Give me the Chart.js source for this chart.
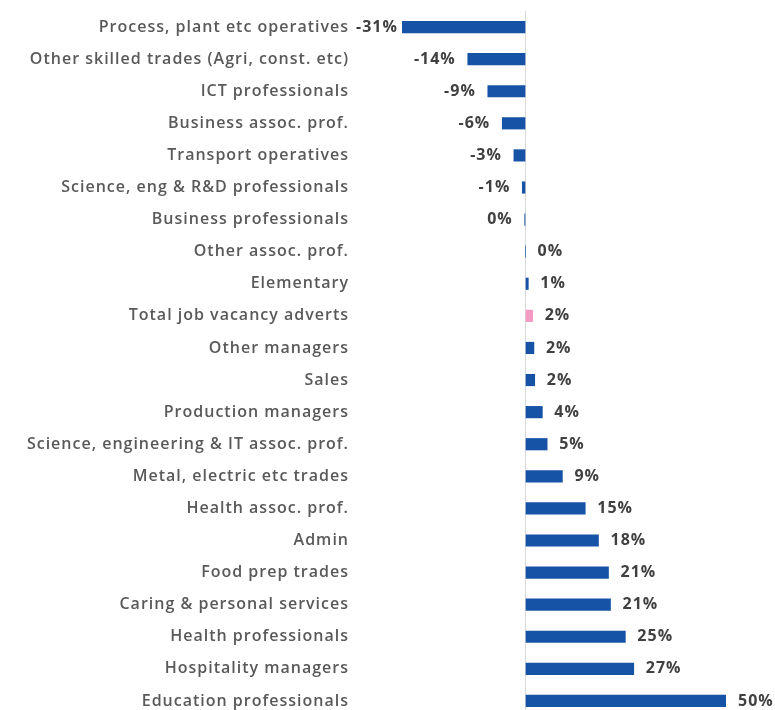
<!DOCTYPE html>
<html>
<head>
<meta charset="utf-8">
<script src="https://cdn.jsdelivr.net/npm/chart.js@4"></script>
<style>
  html, body { margin: 0; padding: 0; background: #fff; overflow: hidden; }
  #chart { display: block; }
</style>
</head>
<body>
<canvas id="chart" width="775" height="728"></canvas>
<script>
const categories = [
  'Process, plant etc operatives',
  'Other skilled trades (Agri, const. etc)',
  'ICT professionals',
  'Business assoc. prof.',
  'Transport operatives',
  'Science, eng & R&D professionals',
  'Business professionals',
  'Other assoc. prof.',
  'Elementary',
  'Total job vacancy adverts',
  'Other managers',
  'Sales',
  'Production managers',
  'Science, engineering & IT assoc. prof.',
  'Metal, electric etc trades',
  'Health assoc. prof.',
  'Admin',
  'Food prep trades',
  'Caring & personal services',
  'Health professionals',
  'Hospitality managers',
  'Education professionals'
];

const changePct = [
  -30.8, -14.4, -9.4, -5.8, -2.9, -0.8, -0.2, 0,
  0.7, 1.8, 2.1, 2.3, 4.2, 5.4, 9.2, 14.9,
  18.2, 20.7, 21.2, 24.9, 27.0, 50.0
];

const totalCategory = 'Total job vacancy adverts';

const barBlue = '#1652a5';
const totalPink = '#f59ac2';
const spacing = '1px';

// wider lettering for the axis labels (closer to the original face)
const letterSpacing = {
  id: 'letterSpacing',
  beforeDraw(chart) { chart.ctx.letterSpacing = spacing; },
  afterDraw(chart) { chart.ctx.letterSpacing = '0px'; }
};

// Value labels next to each bar end
const valueLabels = {
  id: 'valueLabels',
  afterDatasetsDraw(chart) {
    const ctx = chart.ctx;
    const meta = chart.getDatasetMeta(0);
    ctx.save();
    ctx.letterSpacing = spacing;
    ctx.font = 'bold 16px "Open Sans"';
    ctx.fillStyle = '#404040';
    ctx.textBaseline = 'middle';
    meta.data.forEach((bar, i) => {
      const v = changePct[i];
      const text = Math.round(v) + '%';
      if (v < 0) {
        const w = ctx.measureText(text).width;
        let right = bar.x - 12;
        if (right - w < 356) right = 356 + w;
        ctx.textAlign = 'right';
        ctx.fillText(text, right, bar.y);
      } else {
        ctx.textAlign = 'left';
        ctx.fillText(text, bar.x + 12, bar.y);
      }
    });
    ctx.restore();
  }
};

new Chart(document.getElementById('chart'), {
  type: 'bar',
  data: {
    labels: categories,
    datasets: [{
      data: changePct,
      backgroundColor: categories.map(c => c === totalCategory ? totalPink : barBlue),
      barThickness: 11.5,
      borderWidth: 0
    }]
  },
  options: {
    indexAxis: 'y',
    responsive: false,
    animation: false,
    layout: { padding: { left: 0, right: 49, top: 11, bottom: 11 } },
    plugins: {
      legend: { display: false },
      tooltip: { enabled: false }
    },
    scales: {
      x: {
        min: -30.8,
        max: 50,
        afterBuildTicks: scale => { scale.ticks = [{ value: 0 }]; },
        afterFit: scale => {
          scale.height = 0;
          scale.paddingLeft = 0;
          scale.paddingRight = 0;
        },
        ticks: { display: false },
        border: { display: false },
        grid: {
          drawTicks: false,
          color: '#d9d9d9',
          lineWidth: 1
        }
      },
      y: {
        afterFit: scale => {
          scale.width = 402;
          scale.paddingTop = 0;
          scale.paddingBottom = 0;
        },
        border: { display: false },
        grid: { display: false, drawTicks: false },
        ticks: {
          padding: 53,
          color: '#595959',
          font: { family: '"Open Sans"', size: 16, weight: '600' }
        }
      }
    }
  },
  plugins: [letterSpacing, valueLabels]
});
</script>
</body>
</html>
